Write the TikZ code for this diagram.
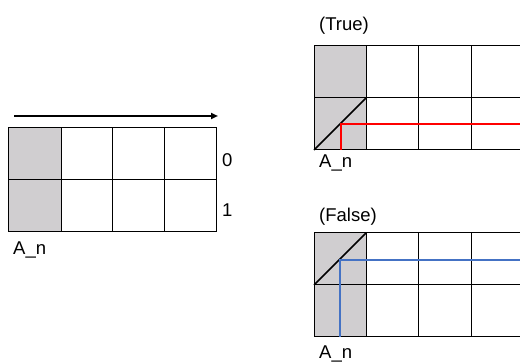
\documentclass[tikz,border=0pt]{standalone}
\usepackage{fontspec}
\setmainfont{Liberation Sans}
\usetikzlibrary{arrows.meta}
\definecolor{cellgray}{HTML}{D0CED0}
\definecolor{redline}{HTML}{FF0000}
\definecolor{blueline}{HTML}{4472C4}
\begin{document}
\begin{tikzpicture}[x=1pt,y=-1pt,
  grid/.style={draw=black,line width=1pt},
  shade/.style={fill=cellgray},
  lbl/.style={anchor=base west,inner sep=0pt,font=\fontsize{18.5}{21}\selectfont},
  diag/.style={draw=black,line width=1.6pt},
  pathred/.style={draw=redline,line width=2pt},
  pathblue/.style={draw=blueline,line width=2pt},
  arr/.style={draw=black,line width=1.8pt,-{Triangle[length=7pt,width=6pt]}}]
\useasboundingbox (0,0) rectangle (520,363);
% ---------- left grid ----------
\fill[shade] (8,128) rectangle (61,232);
\draw[grid] (8,128) rectangle (216,232);
\draw[grid] (8,180) -- (216,180);
\foreach \x in {61,112,164} \draw[grid] (\x,128) -- (\x,232);
\coordinate (as) at (14,116);
\coordinate (ae) at (218,116);
\draw[arr] (as) -- (ae);
\node[lbl] (r0) at (222,166.5) {0};
\node[lbl] (r1) at (222,217) {1};
\node[lbl] (an1) at (13,255) {A\_n};
% ---------- true grid ----------
\node[lbl] (t) at (319,31) {(True)};
\fill[shade] (314,46) rectangle (366,150);
\draw[grid] (520,46) -- (314,46) -- (314,150) -- (520,150);
\draw[grid] (314,98) -- (520,98);
\foreach \x in {366,418,471} \draw[grid] (\x,46) -- (\x,150);
\draw[diag] (314,150) -- (366,98);
\draw[pathred] (341,150) -- (341,124) -- (521,124);
\node[lbl] (an2) at (319,168) {A\_n};
% ---------- false grid ----------
\node[lbl] (f) at (319,222) {(False)};
\fill[shade] (314,233) rectangle (366,337);
\draw[grid] (520,233) -- (314,233) -- (314,337) -- (520,337);
\draw[grid] (314,285) -- (520,285);
\foreach \x in {366,418,471} \draw[grid] (\x,233) -- (\x,337);
\draw[diag] (314,285) -- (366,233);
\draw[pathblue] (340,337) -- (340,260) -- (521,260);
\node[lbl] (an3) at (319,358.5) {A\_n};
\end{tikzpicture}
\end{document}
